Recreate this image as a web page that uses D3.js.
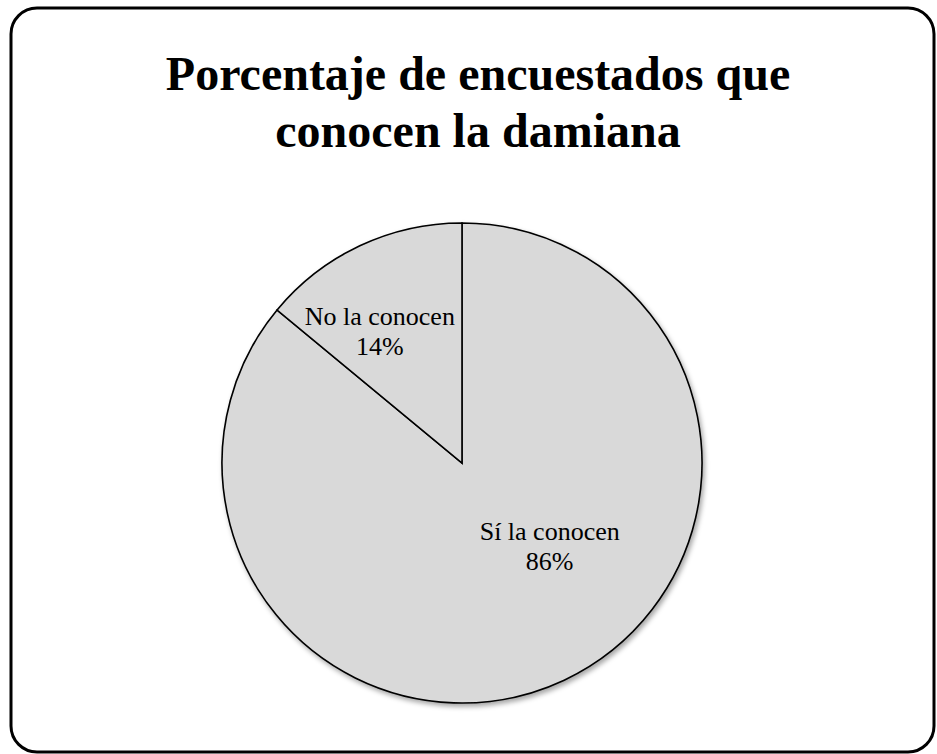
<!DOCTYPE html>
<html>
<head>
<meta charset="utf-8">
<script src="https://cdn.jsdelivr.net/npm/d3@7"></script>
<style>
  html, body { margin: 0; padding: 0; background: #fff; }
  svg { display: block; }
  .serif { font-family: "Liberation Serif", "Times New Roman", "DejaVu Serif", serif; }
</style>
</head>
<body>
<svg id="chart" width="937" height="754"></svg>
<script>
const title = ["Porcentaje de encuestados que", "conocen la damiana"];
const categories = ["Sí la conocen", "No la conocen"];
const values = [86, 14];

const W = 937, H = 754;
const svg = d3.select("#chart");

const defs = svg.append("defs");
const f = defs.append("filter").attr("id", "shadow")
  .attr("x", "-10%").attr("y", "-10%").attr("width", "125%").attr("height", "125%");
f.append("feDropShadow").attr("dx", 2).attr("dy", 3).attr("stdDeviation", 2.5)
  .attr("flood-color", "#000").attr("flood-opacity", 0.35);

// border
svg.append("rect")
  .attr("x", 11).attr("y", 8).attr("width", 923).attr("height", 744)
  .attr("rx", 26).attr("ry", 26)
  .attr("fill", "#fff").attr("stroke", "#000").attr("stroke-width", 3);

// title
svg.append("text")
  .attr("class", "serif")
  .attr("text-anchor", "middle")
  .attr("font-weight", "bold").attr("font-size", 48)
  .selectAll("tspan").data(title).join("tspan")
  .attr("x", 478).attr("y", (d, i) => 90 + i * 57)
  .text(d => d);

const cx = 462, cy = 463, R = 240;
const g = svg.append("g").attr("transform", `translate(${cx},${cy})`);

const pie = d3.pie().sort(null).value(d => d.v);
const data = pie(categories.map((c, i) => ({ c, v: values[i] })));
const arc = d3.arc().innerRadius(0).outerRadius(R);

g.append("g").attr("filter", "url(#shadow)")
  .selectAll("path").data(data).join("path")
  .attr("d", arc)
  .attr("fill", "#d9d9d9")
  .attr("stroke", "#000").attr("stroke-width", 1.6)
  .attr("stroke-linejoin", "miter");

// label placement (best-fit style offsets from each slice's mid-angle)
const labelShift = [-0.33, -0.14];   // radians added to mid-angle
const labelRadius = [126, 150];
const labels = g.selectAll("text.lbl").data(data).join("text")
  .attr("class", "lbl serif")
  .attr("text-anchor", "middle")
  .attr("font-size", 26)
  .attr("transform", (d, i) => {
    const a = (d.startAngle + d.endAngle) / 2 + labelShift[i];
    const x = Math.sin(a) * labelRadius[i];
    const y = -Math.cos(a) * labelRadius[i];
    return `translate(${x},${y})`;
  });
labels.append("tspan").attr("x", 0).attr("y", -13).text(d => d.data.c);
labels.append("tspan").attr("x", 0).attr("y", 17).text(d => d.data.v + "%");
</script>
</body>
</html>
